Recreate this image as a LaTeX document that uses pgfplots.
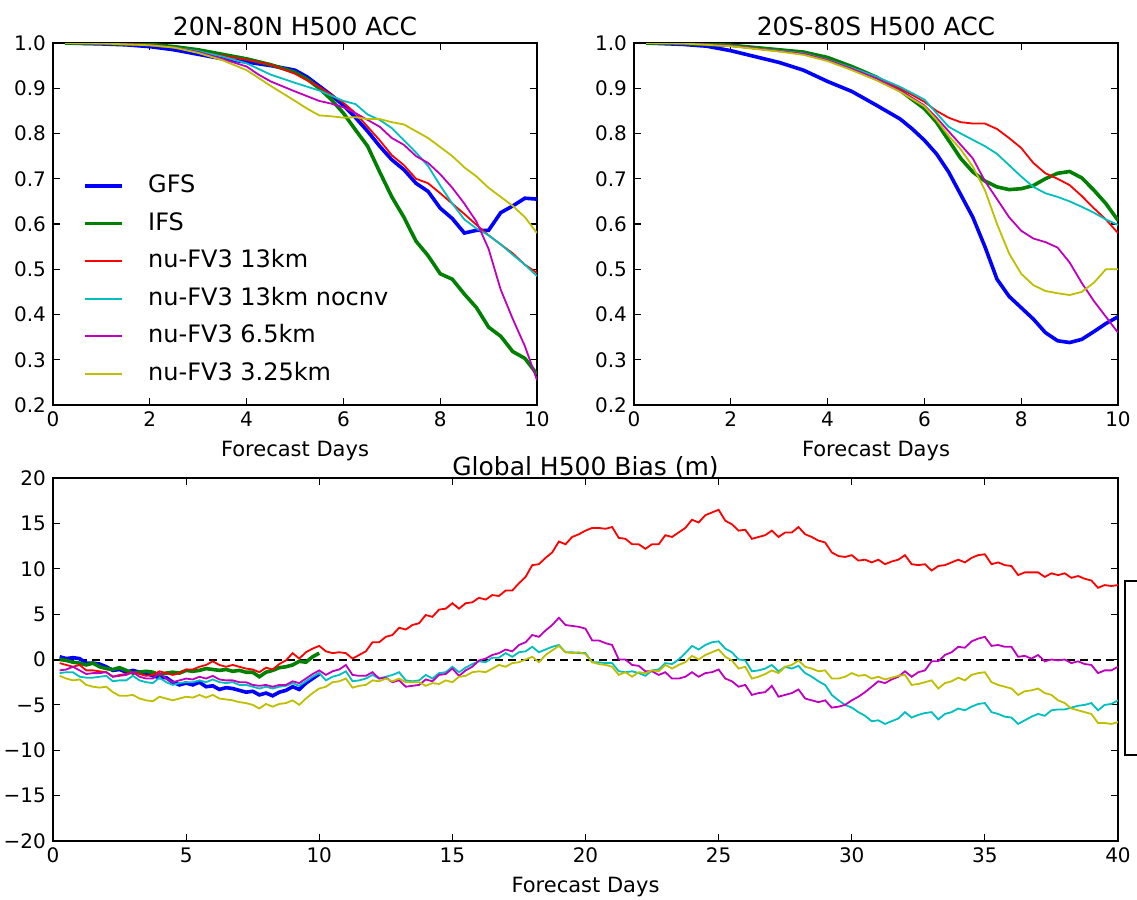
\documentclass[border=0pt]{standalone}
\usepackage{fontspec}
\setmainfont{DejaVu Sans}
\usepackage{pgfplots}
\pgfplotsset{compat=1.18}
\definecolor{mb}{rgb}{0,0,1}
\definecolor{mg}{rgb}{0,0.5,0}
\definecolor{mr}{rgb}{1,0,0}
\definecolor{mc}{rgb}{0,0.75,0.75}
\definecolor{mm}{rgb}{0.75,0,0.75}
\definecolor{my}{rgb}{0.75,0.75,0}
\pgfplotsset{
  base/.style={scale only axis, axis line style={line width=0.8pt},
    tick style={black, line width=0.6pt}, major tick length=3.5pt, tick align=inside,
    xtick pos=both, ytick pos=both,
    ticklabel style={font=\fontsize{10}{12}\selectfont},
    label style={font=\fontsize{10.5}{12}\selectfont},
    every axis title shift=0pt,
    title style={font=\fontsize{12.5}{15}\selectfont, inner sep=1pt, yshift=2.5pt}},
  thk/.style={line width=1.8pt},
  thn/.style={line width=0.9pt},
  acc/.style={base, width=242pt, height=181pt, xmin=0, xmax=10, ymin=0.2, ymax=1.0,
    xtick={0,2,4,6,8,10}, xticklabels={0,2,4,6,8,10},
    ytick={0.2,0.3,0.4,0.5,0.6,0.7,0.8,0.9,1.0},
    yticklabels={0.2,0.3,0.4,0.5,0.6,0.7,0.8,0.9,1.0},
    xlabel={Forecast Days}},
}
\begin{document}
\begin{tikzpicture}
\useasboundingbox (0,0) rectangle (568.5pt,-450pt);
% ---------------- top left
\begin{axis}[acc, at={(26.5pt,-21.5pt)}, anchor=north west,
  title={20N-80N H500 ACC},
  legend style={draw=none, fill=none, at={(rel axis cs:0.05,0.649)}, anchor=north west,
    font=\fontsize{12}{14}\selectfont, row sep=7.3pt, column sep=12pt,
    nodes={inner sep=0pt, text height=9pt, text depth=2.5pt}},
  legend cell align=left,
  legend image code/.code={\draw[#1] (0pt,0pt) -- (18.5pt,0pt);}]
\addplot[mb, thk] coordinates {(0.25,1.0)(1,0.998)(1.5,0.996)(2,0.992)(2.5,0.985)(3,0.975)(3.5,0.965)(4,0.958)(4.5,0.95)(5,0.94)(5.25,0.925)(5.5,0.905)(5.75,0.885)(6,0.862)(6.25,0.835)(6.5,0.805)(6.75,0.772)(7,0.742)(7.25,0.72)(7.5,0.69)(7.75,0.672)(8,0.635)(8.25,0.612)(8.5,0.58)(8.75,0.586)(9,0.586)(9.25,0.625)(9.5,0.64)(9.75,0.657)(10,0.655)};
\addlegendentry{GFS}
\addplot[mg, thk] coordinates {(0.25,1.0)(1,0.999)(2,0.997)(2.5,0.992)(3,0.985)(3.5,0.975)(4,0.965)(4.5,0.952)(5,0.935)(5.25,0.92)(5.5,0.9)(5.75,0.875)(6,0.845)(6.25,0.808)(6.5,0.772)(6.75,0.715)(7,0.66)(7.25,0.615)(7.5,0.562)(7.75,0.53)(8,0.49)(8.25,0.478)(8.5,0.445)(8.75,0.415)(9,0.372)(9.25,0.352)(9.5,0.318)(9.75,0.303)(10,0.268)};
\addlegendentry{IFS}
\addplot[mr, thn] coordinates {(0.25,1.0)(1,0.999)(2,0.996)(2.5,0.99)(3,0.98)(3.5,0.972)(4,0.963)(4.5,0.952)(5,0.932)(5.5,0.903)(6,0.868)(6.25,0.845)(6.5,0.815)(6.75,0.785)(7,0.752)(7.25,0.73)(7.5,0.70)(7.75,0.69)(8,0.668)(8.25,0.645)(8.5,0.622)(8.75,0.598)(9,0.575)(9.25,0.555)(9.5,0.535)(9.75,0.51)(10,0.492)};
\addlegendentry{nu-FV3 13km}
\addplot[mc, thn] coordinates {(0.25,1.0)(1,0.999)(2,0.995)(2.5,0.99)(3,0.982)(3.5,0.97)(4,0.955)(4.5,0.93)(5,0.912)(5.5,0.895)(6,0.872)(6.25,0.865)(6.5,0.842)(6.75,0.83)(7,0.812)(7.25,0.785)(7.5,0.758)(7.75,0.728)(8,0.685)(8.25,0.645)(8.5,0.61)(8.75,0.59)(9,0.575)(9.25,0.555)(9.5,0.532)(9.75,0.51)(10,0.485)};
\addlegendentry{nu-FV3 13km nocnv}
\addplot[mm, thn] coordinates {(0.25,1.0)(1,0.999)(2,0.995)(2.5,0.99)(3,0.98)(3.5,0.965)(4,0.948)(4.25,0.93)(4.5,0.915)(5,0.893)(5.5,0.872)(5.75,0.866)(6,0.858)(6.25,0.845)(6.5,0.83)(6.75,0.815)(7,0.79)(7.25,0.775)(7.5,0.75)(7.75,0.735)(8,0.71)(8.25,0.68)(8.5,0.645)(8.75,0.605)(9,0.545)(9.25,0.455)(9.5,0.39)(9.75,0.33)(10,0.255)};
\addlegendentry{nu-FV3 6.5km}
\addplot[my, thn] coordinates {(0.25,1.0)(1,0.999)(2,0.995)(2.5,0.99)(3,0.978)(3.5,0.962)(4,0.94)(4.5,0.905)(5,0.872)(5.25,0.855)(5.5,0.84)(5.75,0.838)(6,0.835)(6.25,0.836)(6.5,0.832)(6.75,0.832)(7,0.825)(7.25,0.82)(7.5,0.805)(7.75,0.79)(8,0.77)(8.25,0.75)(8.5,0.725)(8.75,0.705)(9,0.68)(9.25,0.66)(9.5,0.64)(9.75,0.615)(10,0.58)};
\addlegendentry{nu-FV3 3.25km}
\end{axis}
% ---------------- top right
\begin{axis}[acc, at={(317pt,-21.5pt)}, anchor=north west, title={20S-80S H500 ACC}]
\addplot[mb, thk] coordinates {(0.25,1.0)(1,0.997)(1.5,0.993)(2,0.983)(2.5,0.97)(3,0.957)(3.5,0.94)(4,0.915)(4.5,0.893)(5,0.863)(5.5,0.832)(5.75,0.81)(6,0.785)(6.25,0.755)(6.5,0.715)(6.75,0.665)(7,0.615)(7.25,0.55)(7.5,0.478)(7.75,0.44)(8,0.415)(8.25,0.39)(8.5,0.36)(8.75,0.342)(9,0.338)(9.25,0.345)(9.5,0.362)(9.75,0.38)(10,0.395)};
\addplot[mg, thk] coordinates {(0.25,1.0)(1,0.999)(2,0.995)(2.5,0.99)(3,0.985)(3.5,0.98)(4,0.968)(4.5,0.948)(5,0.925)(5.5,0.895)(6,0.855)(6.25,0.825)(6.5,0.785)(6.75,0.745)(7,0.715)(7.25,0.695)(7.5,0.682)(7.75,0.676)(8,0.678)(8.25,0.685)(8.5,0.7)(8.75,0.712)(9,0.716)(9.25,0.702)(9.5,0.675)(9.75,0.645)(10,0.608)};
\addplot[mr, thn] coordinates {(0.25,1.0)(1,0.999)(2,0.994)(2.5,0.988)(3,0.983)(3.5,0.977)(4,0.963)(4.5,0.944)(5,0.924)(5.5,0.9)(6,0.87)(6.25,0.85)(6.5,0.835)(6.75,0.825)(7,0.822)(7.25,0.822)(7.5,0.81)(7.75,0.79)(8,0.768)(8.25,0.735)(8.5,0.712)(8.75,0.7)(9,0.686)(9.25,0.662)(9.5,0.635)(9.75,0.61)(10,0.58)};
\addplot[mc, thn] coordinates {(0.25,1.0)(1,0.999)(2,0.994)(2.5,0.988)(3,0.983)(3.5,0.977)(4,0.963)(4.5,0.945)(5,0.926)(5.5,0.903)(6,0.875)(6.25,0.845)(6.5,0.815)(6.75,0.8)(7,0.786)(7.25,0.772)(7.5,0.755)(7.75,0.73)(8,0.705)(8.25,0.682)(8.5,0.668)(8.75,0.66)(9,0.65)(9.25,0.638)(9.5,0.625)(9.75,0.61)(10,0.598)};
\addplot[mm, thn] coordinates {(0.25,1.0)(1,0.999)(2,0.994)(2.5,0.988)(3,0.982)(3.5,0.976)(4,0.962)(4.5,0.943)(5,0.922)(5.5,0.895)(6,0.862)(6.25,0.835)(6.5,0.805)(6.75,0.775)(7,0.745)(7.25,0.695)(7.5,0.655)(7.75,0.615)(8,0.585)(8.25,0.568)(8.5,0.56)(8.75,0.548)(9,0.515)(9.25,0.47)(9.5,0.43)(9.75,0.395)(10,0.36)};
\addplot[my, thn] coordinates {(0.25,1.0)(1,0.999)(2,0.993)(2.5,0.987)(3,0.981)(3.5,0.974)(4,0.96)(4.5,0.94)(5,0.918)(5.5,0.892)(6,0.86)(6.25,0.83)(6.5,0.795)(6.75,0.765)(7,0.727)(7.25,0.675)(7.5,0.6)(7.75,0.535)(8,0.49)(8.25,0.465)(8.5,0.452)(8.75,0.447)(9,0.443)(9.25,0.45)(9.5,0.47)(9.75,0.5)(10,0.5)};
\end{axis}
% ---------------- bottom
\begin{axis}[base, at={(26.5pt,-239pt)}, anchor=north west, width=532.5pt, height=181.5pt,
  xmin=0, xmax=40, ymin=-20, ymax=20,
  xtick={0,5,10,15,20,25,30,35,40}, xticklabels={0,5,10,15,20,25,30,35,40},
  ytick={-20,-15,-10,-5,0,5,10,15,20},
  yticklabels={−20,−15,−10,−5,0,5,10,15,20},
  xlabel={Forecast Days}, title={Global H500 Bias (m)},
  title style={yshift=-4pt}]
\addplot[black, line width=1pt, dash pattern=on 4pt off 2.5pt] coordinates {(0,0)(40,0)};
\addplot[mb, thk] coordinates {(0.25,0.3)(0.5,0.1)(0.75,0.2)(1,0.1)(1.25,-0.4)(1.5,-0.4)(1.75,-0.5)(2,-0.8)(2.25,-1.2)(2.5,-1.1)(2.75,-1.4)(3,-1.2)(3.25,-1.4)(3.5,-1.5)(3.75,-1.8)(4,-2.0)(4.25,-2.0)(4.5,-2.5)(4.75,-2.8)(5,-2.6)(5.25,-2.8)(5.5,-2.5)(5.75,-3.0)(6,-2.9)(6.25,-3.3)(6.5,-3.1)(6.75,-3.2)(7,-3.4)(7.25,-3.6)(7.5,-3.5)(7.75,-3.9)(8,-3.7)(8.25,-4.0)(8.5,-3.6)(8.75,-3.4)(9,-3.0)(9.25,-3.3)(9.5,-2.6)(9.75,-2.1)(10,-1.6)};
\addplot[mg, thk] coordinates {(0.25,0.0)(0.5,-0.1)(0.75,-0.3)(1,-0.4)(1.25,-0.6)(1.5,-0.4)(1.75,-0.8)(2,-1.0)(2.25,-1.1)(2.5,-0.9)(2.75,-1.2)(3,-1.5)(3.25,-1.4)(3.5,-1.3)(3.75,-1.4)(4,-1.7)(4.25,-1.5)(4.5,-1.4)(4.75,-1.5)(5,-1.2)(5.25,-1.3)(5.5,-1.2)(5.75,-1.0)(6,-1.1)(6.25,-1.2)(6.5,-1.1)(6.75,-1.3)(7,-1.2)(7.25,-1.4)(7.5,-1.4)(7.75,-1.9)(8,-1.4)(8.25,-1.2)(8.5,-0.9)(8.75,-0.8)(9,-0.6)(9.25,-0.2)(9.5,-0.3)(9.75,0.3)(10,0.7)};
\addplot[mr, thn] coordinates {(0.25,-0.4)(0.5,-0.6)(0.75,-0.8)(1,-0.6)(1.25,-1.2)(1.5,-1.2)(1.75,-1.3)(2,-1.4)(2.25,-1.9)(2.5,-1.7)(2.75,-1.6)(3,-1.4)(3.25,-1.6)(3.5,-1.8)(3.75,-1.7)(4,-1.3)(4.25,-1.5)(4.5,-1.7)(4.75,-1.5)(5,-1.1)(5.25,-1.1)(5.5,-0.8)(5.75,-0.6)(6,-0.2)(6.25,-0.6)(6.5,-0.8)(6.75,-0.6)(7,-0.8)(7.25,-1.0)(7.5,-1.1)(7.75,-1.4)(8,-0.9)(8.25,-1.1)(8.5,-0.5)(8.75,-0.1)(9,0.7)(9.25,0.1)(9.5,0.8)(9.75,1.2)(10,1.5)(10.25,0.9)(10.5,0.7)(10.75,0.8)(11,0.7)(11.25,0.1)(11.5,0.5)(11.75,0.9)(12,1.9)(12.25,1.9)(12.5,2.5)(12.75,2.7)(13,3.5)(13.25,3.3)(13.5,3.8)(13.75,4.0)(14,4.9)(14.25,4.7)(14.5,5.5)(14.75,5.6)(15,6.2)(15.25,5.6)(15.5,6.2)(15.75,6.3)(16,6.8)(16.25,6.6)(16.5,7.1)(16.75,7.0)(17,7.6)(17.25,7.6)(17.5,8.4)(17.75,9.1)(18,10.4)(18.25,10.5)(18.5,11.2)(18.75,11.8)(19,13.0)(19.25,12.7)(19.5,13.5)(19.75,13.8)(20,14.2)(20.25,14.5)(20.5,14.5)(20.75,14.4)(21,14.6)(21.25,13.4)(21.5,13.3)(21.75,12.7)(22,12.7)(22.25,12.2)(22.5,12.7)(22.75,12.7)(23,13.7)(23.25,13.5)(23.5,14.0)(23.75,14.5)(24,15.4)(24.25,15.1)(24.5,15.9)(24.75,16.2)(25,16.5)(25.25,15.3)(25.5,14.9)(25.75,14.2)(26,14.3)(26.25,13.3)(26.5,13.5)(26.75,13.7)(27,14.2)(27.25,13.5)(27.5,14.0)(27.75,14.0)(28,14.6)(28.25,13.8)(28.5,13.5)(28.75,13.1)(29,12.9)(29.25,11.8)(29.5,11.4)(29.75,11.3)(30,11.5)(30.25,10.9)(30.5,11.0)(30.75,10.7)(31,11.0)(31.25,10.5)(31.5,10.8)(31.75,11.0)(32,11.5)(32.25,10.5)(32.5,10.4)(32.75,10.5)(33,9.8)(33.25,10.3)(33.5,10.4)(33.75,10.7)(34,11.0)(34.25,10.7)(34.5,11.2)(34.75,11.5)(35,11.6)(35.25,10.5)(35.5,10.7)(35.75,10.4)(36,10.3)(36.25,9.3)(36.5,9.6)(36.75,9.6)(37,9.6)(37.25,9.1)(37.5,9.5)(37.75,9.3)(38,9.5)(38.25,9.0)(38.5,9.2)(38.75,8.9)(39,8.7)(39.25,7.9)(39.5,8.2)(39.75,8.1)(40,8.2)};
\addplot[mc, thn] coordinates {(0.25,-1.5)(0.5,-1.4)(0.75,-1.4)(1,-1.9)(1.25,-2.0)(1.5,-2.0)(1.75,-1.9)(2,-1.8)(2.25,-2.4)(2.5,-2.3)(2.75,-2.3)(3,-1.8)(3.25,-2.3)(3.5,-2.5)(3.75,-2.6)(4,-2.0)(4.25,-2.5)(4.5,-2.8)(4.75,-2.6)(5,-2.5)(5.25,-2.5)(5.5,-2.3)(5.75,-2.5)(6,-2.2)(6.25,-2.5)(6.5,-2.6)(6.75,-2.5)(7,-2.8)(7.25,-2.8)(7.5,-3.0)(7.75,-3.2)(8,-3.0)(8.25,-3.2)(8.5,-3.0)(8.75,-2.9)(9,-2.6)(9.25,-2.9)(9.5,-2.4)(9.75,-1.9)(10,-1.5)(10.25,-2.3)(10.5,-1.9)(10.75,-1.7)(11,-1.3)(11.25,-2.4)(11.5,-2.3)(11.75,-2.1)(12,-1.7)(12.25,-2.1)(12.5,-1.9)(12.75,-1.7)(13,-1.4)(13.25,-2.3)(13.5,-2.4)(13.75,-2.3)(14,-1.7)(14.25,-2.1)(14.5,-1.5)(14.75,-1.4)(15,-0.8)(15.25,-1.4)(15.5,-0.9)(15.75,-0.5)(16,-0.2)(16.25,-0.3)(16.5,0.2)(16.75,0.2)(17,0.7)(17.25,0.3)(17.5,0.8)(17.75,0.9)(18,1.4)(18.25,0.8)(18.5,1.1)(18.75,1.4)(19,1.6)(19.25,0.8)(19.5,0.8)(19.75,0.7)(20,0.7)(20.25,-0.3)(20.5,-0.3)(20.75,-0.4)(21,-0.4)(21.25,-1.3)(21.5,-1.4)(21.75,-1.3)(22,-1.5)(22.25,-1.8)(22.5,-1.2)(22.75,-1.1)(23,-0.4)(23.25,-0.5)(23.5,0.0)(23.75,0.7)(24,1.5)(24.25,1.1)(24.5,1.6)(24.75,1.9)(25,2.0)(25.25,1.2)(25.5,0.8)(25.75,0.0)(26,-0.1)(26.25,-1.3)(26.5,-1.2)(26.75,-1.0)(27,-0.6)(27.25,-1.3)(27.5,-0.8)(27.75,-1.0)(28,-0.7)(28.25,-1.5)(28.5,-1.9)(28.75,-2.4)(29,-2.8)(29.25,-3.9)(29.5,-4.5)(29.75,-5.0)(30,-5.3)(30.25,-5.8)(30.5,-6.2)(30.75,-6.8)(31,-6.7)(31.25,-7.1)(31.5,-6.8)(31.75,-6.5)(32,-5.8)(32.25,-6.4)(32.5,-6.1)(32.75,-5.9)(33,-5.8)(33.25,-6.6)(33.5,-6.0)(33.75,-5.8)(34,-5.4)(34.25,-5.6)(34.5,-5.2)(34.75,-4.9)(35,-4.8)(35.25,-5.8)(35.5,-6.0)(35.75,-6.3)(36,-6.4)(36.25,-7.1)(36.5,-6.7)(36.75,-6.3)(37,-6.0)(37.25,-6.2)(37.5,-5.6)(37.75,-5.5)(38,-5.5)(38.25,-5.3)(38.5,-5.1)(38.75,-5.0)(39,-4.8)(39.25,-5.6)(39.5,-5.0)(39.75,-4.9)(40,-4.5)};
\addplot[mm, thn] coordinates {(0.25,-1.2)(0.5,-1.1)(0.75,-0.8)(1,-1.2)(1.25,-1.6)(1.5,-1.5)(1.75,-1.5)(2,-1.4)(2.25,-1.9)(2.5,-1.8)(2.75,-1.7)(3,-1.4)(3.25,-1.9)(3.5,-2.1)(3.75,-2.1)(4,-1.5)(4.25,-2.1)(4.5,-2.5)(4.75,-2.3)(5,-2.1)(5.25,-2.2)(5.5,-1.9)(5.75,-2.1)(6,-1.8)(6.25,-2.2)(6.5,-2.3)(6.75,-2.3)(7,-2.5)(7.25,-2.5)(7.5,-2.8)(7.75,-2.9)(8,-2.8)(8.25,-3.0)(8.5,-2.8)(8.75,-2.8)(9,-2.4)(9.25,-2.6)(9.5,-2.1)(9.75,-1.6)(10,-1.2)(10.25,-1.7)(10.5,-1.3)(10.75,-1.1)(11,-0.6)(11.25,-1.7)(11.5,-1.8)(11.75,-1.8)(12,-1.4)(12.25,-2.1)(12.5,-2.0)(12.75,-2.5)(13,-2.3)(13.25,-3.0)(13.5,-2.9)(13.75,-2.8)(14,-2.2)(14.25,-2.4)(14.5,-1.7)(14.75,-1.6)(15,-1.0)(15.25,-1.8)(15.5,-1.2)(15.75,-0.8)(16,-0.1)(16.25,0.1)(16.5,0.5)(16.75,0.7)(17,1.1)(17.25,0.9)(17.5,1.6)(17.75,1.9)(18,2.7)(18.25,2.5)(18.5,3.2)(18.75,3.8)(19,4.6)(19.25,3.8)(19.5,3.7)(19.75,3.6)(20,3.4)(20.25,2.1)(20.5,2.1)(20.75,1.8)(21,1.6)(21.25,0.0)(21.5,0.0)(21.75,-0.6)(22,-0.7)(22.25,-1.3)(22.5,-1.3)(22.75,-1.7)(23,-1.4)(23.25,-2.1)(23.5,-2.1)(23.75,-1.9)(24,-1.4)(24.25,-1.9)(24.5,-1.5)(24.75,-1.4)(25,-1.1)(25.25,-2.1)(25.5,-2.4)(25.75,-3.0)(26,-2.8)(26.25,-3.9)(26.5,-3.7)(26.75,-3.6)(27,-2.9)(27.25,-4.1)(27.5,-3.9)(27.75,-3.7)(28,-3.3)(28.25,-4.3)(28.5,-4.5)(28.75,-4.7)(29,-4.5)(29.25,-5.3)(29.5,-5.2)(29.75,-5.0)(30,-4.5)(30.25,-4.1)(30.5,-3.6)(30.75,-3.0)(31,-2.4)(31.25,-2.6)(31.5,-2.2)(31.75,-1.9)(32,-1.3)(32.25,-1.9)(32.5,-1.4)(32.75,-1.2)(33,-0.2)(33.25,-0.2)(33.5,0.5)(33.75,0.8)(34,1.4)(34.25,1.3)(34.5,2.0)(34.75,2.3)(35,2.5)(35.25,1.5)(35.5,1.6)(35.75,1.4)(36,1.4)(36.25,0.3)(36.5,0.4)(36.75,0.1)(37,0.5)(37.25,-0.2)(37.5,0.0)(37.75,-0.1)(38,0.0)(38.25,-0.4)(38.5,-0.2)(38.75,-0.5)(39,-0.6)(39.25,-1.5)(39.5,-1.2)(39.75,-1.2)(40,-0.8)};
\addplot[my, thn] coordinates {(0.25,-1.8)(0.5,-2.1)(0.75,-2.3)(1,-2.2)(1.25,-2.8)(1.5,-3.0)(1.75,-3.1)(2,-3.0)(2.25,-3.6)(2.5,-4.0)(2.75,-4.0)(3,-3.9)(3.25,-4.3)(3.5,-4.5)(3.75,-4.6)(4,-4.1)(4.25,-4.3)(4.5,-4.5)(4.75,-4.3)(5,-4.1)(5.25,-4.2)(5.5,-3.9)(5.75,-4.2)(6,-3.9)(6.25,-4.3)(6.5,-4.4)(6.75,-4.5)(7,-4.7)(7.25,-4.8)(7.5,-5.0)(7.75,-5.4)(8,-4.9)(8.25,-5.2)(8.5,-4.9)(8.75,-4.8)(9,-4.5)(9.25,-5.0)(9.5,-4.3)(9.75,-3.7)(10,-3.2)(10.25,-3.0)(10.5,-2.5)(10.75,-2.4)(11,-2.1)(11.25,-3.1)(11.5,-2.9)(11.75,-2.8)(12,-2.3)(12.25,-2.4)(12.5,-2.1)(12.75,-2.4)(13,-2.1)(13.25,-2.5)(13.5,-2.5)(13.75,-2.5)(14,-2.9)(14.25,-2.6)(14.5,-2.7)(14.75,-2.3)(15,-2.5)(15.25,-1.9)(15.5,-1.8)(15.75,-1.4)(16,-1.3)(16.25,-1.4)(16.5,-1.0)(16.75,-0.6)(17,-0.8)(17.25,-0.4)(17.5,-0.3)(17.75,0.0)(18,0.3)(18.25,-0.3)(18.5,0.5)(18.75,1.0)(19,1.5)(19.25,0.8)(19.5,0.7)(19.75,0.8)(20,0.6)(20.25,-0.3)(20.5,-0.5)(20.75,-0.6)(21,-0.8)(21.25,-1.7)(21.5,-1.4)(21.75,-1.9)(22,-1.4)(22.25,-1.5)(22.5,-1.2)(22.75,-1.3)(23,-0.6)(23.25,-1.0)(23.5,-0.6)(23.75,-0.3)(24,0.4)(24.25,0.0)(24.5,0.5)(24.75,0.8)(25,1.1)(25.25,0.3)(25.5,-0.1)(25.75,-1.0)(26,-0.8)(26.25,-2.1)(26.5,-1.9)(26.75,-1.6)(27,-1.2)(27.25,-1.5)(27.5,-0.8)(27.75,-0.6)(28,-0.1)(28.25,-0.8)(28.5,-1.0)(28.75,-1.3)(29,-1.2)(29.25,-2.1)(29.5,-2.1)(29.75,-1.9)(30,-1.5)(30.25,-1.8)(30.5,-1.7)(30.75,-2.1)(31,-1.9)(31.25,-2.2)(31.5,-2.0)(31.75,-1.8)(32,-1.7)(32.25,-2.8)(32.5,-2.7)(32.75,-2.5)(33,-2.3)(33.25,-3.2)(33.5,-2.6)(33.75,-2.4)(34,-2.0)(34.25,-2.3)(34.5,-1.7)(34.75,-1.5)(35,-1.4)(35.25,-2.5)(35.5,-2.8)(35.75,-3.0)(36,-3.2)(36.25,-3.9)(36.5,-3.5)(36.75,-3.4)(37,-3.2)(37.25,-3.7)(37.5,-3.9)(37.75,-4.5)(38,-4.8)(38.25,-5.4)(38.5,-5.6)(38.75,-5.8)(39,-6.0)(39.25,-7.0)(39.5,-7.0)(39.75,-7.1)(40,-6.9)};
\end{axis}
% clipped legend frame at the right edge
\draw[line width=0.8pt] (570pt,-290.5pt) -- (562.5pt,-290.5pt) -- (562.5pt,-377.5pt) -- (570pt,-377.5pt);
\end{tikzpicture}
\end{document}
